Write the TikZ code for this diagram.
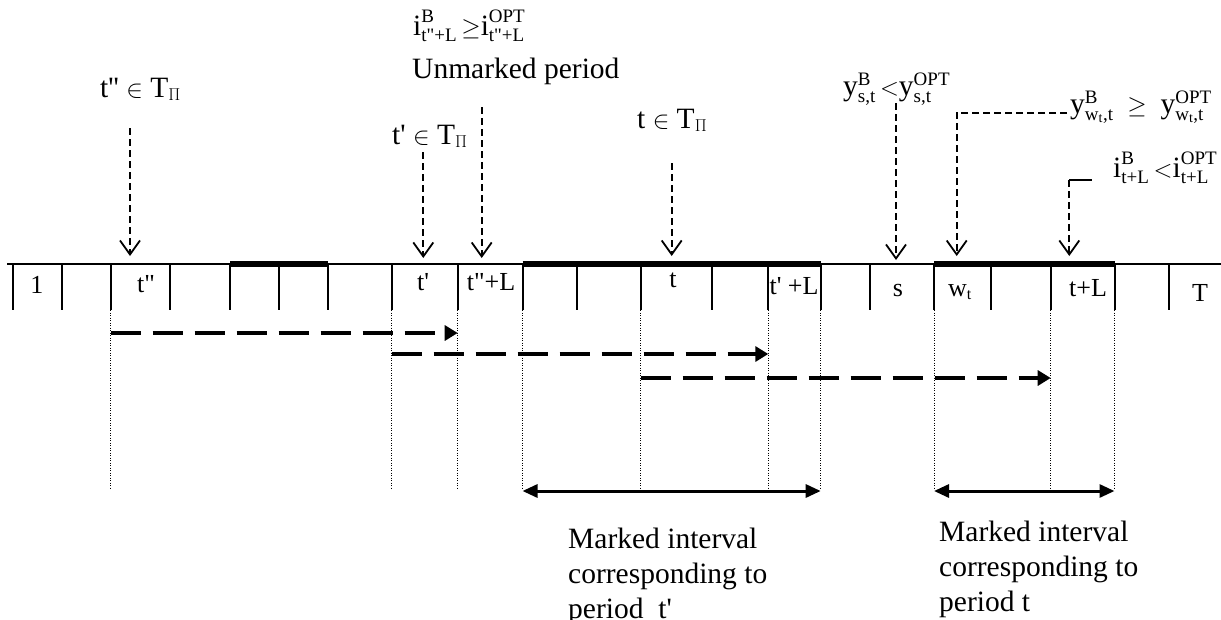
\documentclass[tikz,border=0pt]{standalone}
\usepackage{amsmath}
\usepackage{fontspec}
\setmainfont{Liberation Serif}[Ligatures=TeXOff]
\usetikzlibrary{arrows.meta}
\DeclareMathSizes{29.5}{29.5}{19}{14}
\DeclareMathSizes{26}{26}{16}{12}
\newcommand{\labfont}{\fontsize{29.5}{35}\selectfont}
\newcommand{\cellfont}{\fontsize{26}{30}\selectfont}
\newcommand{\tx}[1]{\text{#1}}

\begin{document}
\begin{tikzpicture}[x=1pt, y=-1pt,
	lab/.style={inner sep=0pt, font=\labfont},
	cell/.style={inner sep=0pt, font=\cellfont, anchor=base},
	tickmark/.style={line width=2pt},
	bar/.style={line width=6pt},
	guide/.style={line width=1pt, dash pattern=on 1pt off 1.5pt},
	pointer/.style={line width=1.8pt, dash pattern=on 7pt off 4pt, -{Straight Barb[length=14pt,width=20pt]}},
	shiftarrow/.style={line width=4pt, dash pattern=on 30pt off 12pt, -{Triangle[length=13pt,width=15pt]}},
	span/.style={line width=3pt, {Triangle[length=15pt,width=13pt]}-{Triangle[length=15pt,width=13pt]}}]
	\useasboundingbox (0,0) rectangle (1221,619);
	% time axis
	\draw [line width=2pt] (7,264) -- (1221,264);
	\foreach \x/\n in {12.7/0,61.7/1,110.7/2,170/3,230/4,279/5,328/6,391.7/7,457.7/8,522.5/9,576.7/10,640.5/11,712/12,768.3/13,820.7/14,870.3/15,934/16,990.8/17,1050.7/18,1114.5/19,1169.4/20}{
	\coordinate (k\n) at (\x,264);
	\draw [tickmark] (k\n) -- ++(0,46);
	}
	\draw [bar] (k4) -- (k6);
	\draw [bar] (k9) -- (k14);
	\draw [bar] (k16) -- (k19);
	\foreach \n in {2,7,8,9,11,13,14,16,18,19}{
	\draw [guide] (k\n) ++(0,46) -- ++(0,178);
	}
	% period labels
	\node [cell] (c1) at (37,293) {1};
	\node [cell] (ctpp) at (146,292) {t"};
	\node [cell] (ctp) at (423,290) {t'};
	\node [cell] (ctppL) at (491,290) {t"+L};
	\node [cell] (ct) at (673,287) {t};
	\node [cell] (ctpL) at (794,294) {t' +L};
	\node [cell] (cs) at (898,296) {s};
	\node [cell] (cw) at (960,296) {w$_{\tx{t}}$};
	\node [cell] (ctL) at (1088,296) {t+L};
	\node [cell] (cT) at (1200,301) {T};
	% annotations
	\node [lab, anchor=base west] (Ltpp) at (100,97) {t'' $\in$ T$_{\Pi}$};
	\node [lab, anchor=base west] (Ltp) at (392,144) {t' $\in$ T$_{\Pi}$};
	\node [lab, anchor=base west] (Lt) at (637,128) {t $\in$ T$_{\Pi}$};
	\node [lab, anchor=base west] (Lineq) at (413,35) {$\tx{i}^{\tx{B}}_{\tx{t"+L}}\,{\geq}\tx{i}^{\tx{OPT}}_{\tx{t"+L}}$};
	\node [lab, anchor=base west] (Lunm) at (412,78) {Unmarked period};
	\node [lab, anchor=base west] (Lys) at (843,95) {$\tx{y}^{\tx{B}}_{\tx{s,t}}\,{<}\tx{y}^{\tx{OPT}}_{\tx{s,t}}$};
	\node [lab, anchor=base west] (Lyw) at (1070,113) {$\tx{y}^{\tx{B}}_{\tx{w}_{\tx{t}}\tx{,t}}\;\geq\;\tx{y}^{\tx{OPT}}_{\tx{w}_{\tx{t}}\tx{,t}}$};
	\node [lab, anchor=base west] (LiL) at (1113,177) {$\tx{i}^{\tx{B}}_{\tx{t+L}}\,{<}\tx{i}^{\tx{OPT}}_{\tx{t+L}}$};
	\coordinate (Stpp) at (130,128);    \coordinate (Ptpp) at (130,256);
	\coordinate (Stp) at (423.3,152);   \coordinate (Ptp) at (423.3,258);
	\coordinate (Sunm) at (481.7,107);  \coordinate (Punm) at (481.7,258);
	\coordinate (St) at (671.7,163);    \coordinate (Pt) at (671.7,256);
	\coordinate (Sys) at (896,103);     \coordinate (Pys) at (896,260);
	\coordinate (Syw) at (1067,112.7);  \coordinate (Pyw) at (956.7,256);
	\coordinate (SiL) at (1091.7,180);  \coordinate (PiL) at (1069.3,256);
	\draw [pointer] (Stpp) -- (Ptpp);
	\draw [pointer] (Stp) -- (Ptp);
	\draw [pointer] (Sunm) -- (Punm);
	\draw [pointer] (St) -- (Pt);
	\draw [pointer] (Sys) -- (Pys);
	\draw [pointer] (Syw) -| (Pyw);
	\draw [line width=1.8pt] (SiL) -- (SiL -| PiL);
	\draw [pointer] (SiL -| PiL) -- (PiL);
	% shifts by L
	\coordinate (a1) at (110.7,333);  \coordinate (b1) at (457.7,333);
	\coordinate (a2) at (391.7,354);  \coordinate (b2) at (768.3,354);
	\coordinate (a3) at (640.5,378);  \coordinate (b3) at (1050.7,378);
	\draw [shiftarrow] (a1) -- (b1);
	\draw [shiftarrow] (a2) -- (b2);
	\draw [shiftarrow] (a3) -- (b3);
	% marked intervals
	\coordinate (m1) at (522.5,491);  \coordinate (n1) at (820.7,491);
	\coordinate (m2) at (934,491);    \coordinate (n2) at (1114.5,491);
	\draw [span] (m1) -- (n1);
	\draw [span] (m2) -- (n2);
	\node [lab, anchor=north west, align=left] (Mtp) at (568,527.5) {Marked interval\\corresponding to\\period\ \ t'};
	\node [lab, anchor=north west, align=left] (Mt) at (939,521) {Marked interval\\corresponding to\\period t};
\end{tikzpicture}
\end{document}
